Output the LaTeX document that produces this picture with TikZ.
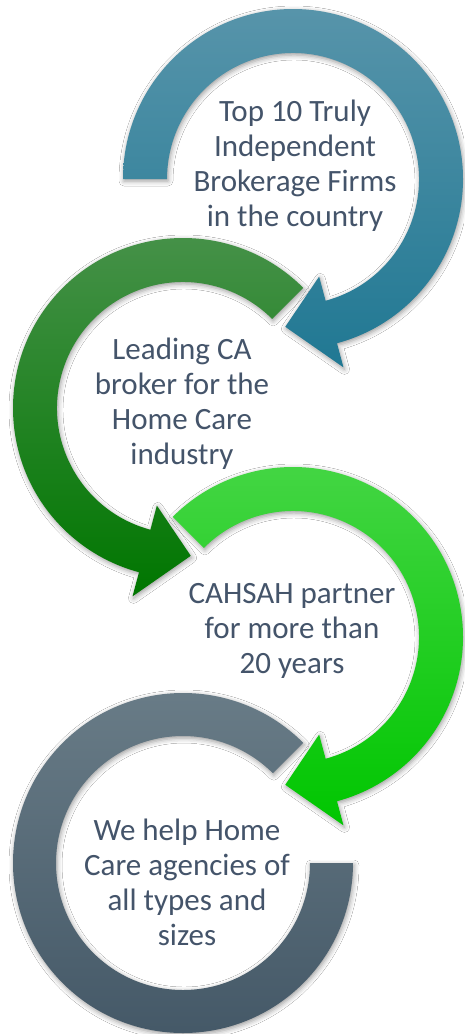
\documentclass[tikz,border=0pt]{standalone}
\usepackage{fontspec}
\setmainfont{Carlito}
\usetikzlibrary{shadows.blur}
\definecolor{txt}{HTML}{44546A}
\definecolor{blueT}{HTML}{5794AA}
\definecolor{blueB}{HTML}{207893}
\definecolor{dgreenT}{HTML}{48924B}
\definecolor{dgreenB}{HTML}{007600}
\definecolor{lgreenT}{HTML}{46D646}
\definecolor{lgreenB}{HTML}{00C600}
\definecolor{grayT}{HTML}{6A7D88}
\definecolor{grayB}{HTML}{435766}
\begin{document}
\begin{tikzpicture}[x=1pt,y=1pt,
  lbl/.style={text=txt, align=center, font=\fontsize{31}{35}\selectfont, inner sep=0pt},
  ring/.style={blur shadow={shadow xshift=1pt, shadow yshift=-2pt, shadow blur radius=5pt, shadow opacity=40}}]
\fill[white] (0,0) rectangle (464,-1034);
\useasboundingbox (0,0) rectangle (464,-1034);

% blue arrow (clockwise)
\begin{scope}[shift={(293,-179)}]
\path[ring, top color=blueT, bottom color=blueB]
  (180:170) arc[start angle=180, end angle=-75, radius=170]
  -- (-75:195) -- (-93:148) -- (-75:101) -- (-75:126)
  arc[start angle=-75, end angle=180, radius=126] -- cycle;
\end{scope}

% dark green arrow (counter-clockwise)
\begin{scope}[shift={(183,-408)}]
\path[ring, top color=dgreenT, bottom color=dgreenB]
  (45:170) arc[start angle=45, end angle=255, radius=170]
  -- (255:195) -- (273:148) -- (255:101) -- (255:126)
  arc[start angle=255, end angle=45, radius=126] -- cycle;
\end{scope}

% light green arrow (clockwise)
\begin{scope}[shift={(293,-637)}]
\path[ring, top color=lgreenT, bottom color=lgreenB]
  (135:170) arc[start angle=135, end angle=-75, radius=170]
  -- (-75:195) -- (-93:148) -- (-75:101) -- (-75:126)
  arc[start angle=-75, end angle=135, radius=126] -- cycle;
\end{scope}

% gray ring
\begin{scope}[shift={(183,-863)}]
\path[ring, top color=grayT, bottom color=grayB]
  (45:170) arc[start angle=45, end angle=360, radius=170]
  -- (0:127)
  arc[start angle=360, end angle=45, radius=127] -- cycle;
\end{scope}

\node[lbl] (t1) at (295,-166) {Top 10 Truly\\Independent\\Brokerage Firms\\in the country};
\node[lbl] (t2) at (182,-404) {Leading CA\\broker for the\\Home Care\\industry};
\node[lbl] (t3) at (292,-631) {CAHSAH partner\\for more than\\20 years};
\node[lbl] (t4) at (187,-882) {We help Home\\Care agencies of\\all types and\\sizes};
\end{tikzpicture}
\end{document}
